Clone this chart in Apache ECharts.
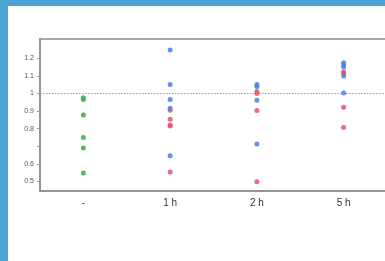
<!DOCTYPE html>
<html>
<head>
<meta charset="utf-8">
<script src="https://cdn.jsdelivr.net/npm/echarts@6/dist/echarts.min.js"></script>
<style>
  html, body { margin: 0; padding: 0; background: #fff; }
  #chart { width: 385px; height: 261px; }
</style>
</head>
<body>
<div id="chart"></div>
<script>
const categories = ['-', '1 h', '2 h', '5 h'];
const yTicks = [0.5, 0.6, 0.7, 0.8, 0.9, 1, 1.1, 1.2];
const yLabels = [0.5, 0.6, 0.8, 0.9, 1, 1.1, 1.2];

// green = control ("-"), blue / red = the two groups at each time point
const greenCtrl = [0.975, 0.965, 0.878, 0.75, 0.69, 0.547];
const blue1h = [1.248, 1.051, 0.966, 0.916, 0.646];
const red1h = [0.905, 0.853, 0.82, 0.815, 0.553];
const blue2h = [1.051, 1.04, 0.962, 0.712];
const red2h = [1.011, 1.0, 0.903, 0.497];
const blue5h = [1.175, 1.164, 1.15, 1.099, 1.002];
const red5h = [1.122, 1.115, 0.922, 0.806];

function pts(cat, vals) {
  return vals.map(v => [cat, v]);
}

const chart = echarts.init(document.getElementById('chart'));

const option = {
  animation: false,
  backgroundColor: '#fff',
  textStyle: { fontFamily: 'Liberation Sans, Arial, sans-serif' },
  graphic: [
    { type: 'rect', left: 0, top: 0, shape: { width: 8, height: 261 }, style: { fill: '#4ba5d5' }, z: -1 },
    { type: 'rect', left: 0, top: 0, shape: { width: 385, height: 6 }, style: { fill: '#4ba5d5' }, z: -1 }
  ],
  grid: {
    left: 40,
    top: 39,
    width: 347,
    bottom: 70,
    outerBoundsMode: 'none',
    containLabel: false,
    show: true,
    borderColor: '#8c8c8c',
    borderWidth: 1.5
  },
  xAxis: {
    type: 'category',
    data: categories,
    boundaryGap: true,
    axisLine: { lineStyle: { color: '#8c8c8c', width: 1.5 } },
    axisTick: { alignWithLabel: true, length: 2, lineStyle: { color: '#999' } },
    axisLabel: { color: '#333', fontSize: 10, margin: 7 },
    splitLine: { show: false }
  },
  yAxis: {
    type: 'value',
    min: 0.445,
    max: 1.31,
    axisLine: { show: true, lineStyle: { color: '#8c8c8c', width: 1.5 } },
    axisTick: { show: true, length: 3, customValues: yTicks, lineStyle: { color: '#999' } },
    axisLabel: { color: '#555', fontSize: 7, margin: 6, customValues: yLabels },
    splitLine: { show: false }
  },
  series: [
    {
      type: 'scatter',
      data: pts('-', greenCtrl),
      symbolSize: 5,
      itemStyle: { color: '#36b84a', opacity: 0.9 },
      markLine: {
        silent: true,
        symbol: 'none',
        label: { show: false },
        lineStyle: { color: '#9a9a9a', type: [1.5, 1.5], width: 1 },
        data: [{ yAxis: 1 }]
      }
    },
    {
      type: 'scatter',
      data: pts('1 h', red1h).concat(pts('2 h', red2h), pts('5 h', red5h)),
      symbolSize: 5,
      itemStyle: { color: '#e9506b', opacity: 0.85 }
    },
    {
      type: 'scatter',
      data: pts('1 h', blue1h).concat(pts('2 h', blue2h), pts('5 h', blue5h)),
      symbolSize: 5,
      itemStyle: { color: '#4a7fe3', opacity: 0.85 }
    }
  ]
};

chart.setOption(option);
</script>
</body>
</html>
